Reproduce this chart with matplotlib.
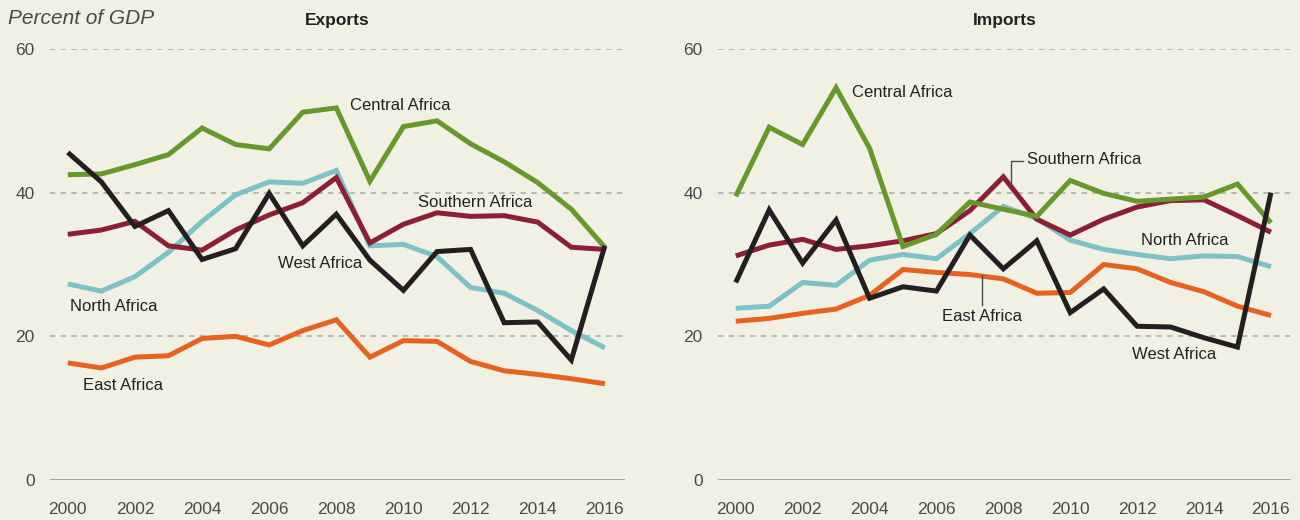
import matplotlib
matplotlib.use('Agg')
import matplotlib.pyplot as plt


# _____DATA____

years = list(range(2000, 2017))

exports_central = [42.5, 42.6, 43.9, 45.3, 49.0, 46.7, 46.1, 51.2, 51.8, 41.6, 49.2, 50.0, 46.8, 44.3, 41.4, 37.7, 32.4]
exports_north = [27.3, 26.3, 28.3, 31.7, 36.0, 39.7, 41.5, 41.3, 43.1, 32.6, 32.8, 31.1, 26.8, 26.0, 23.6, 20.8, 18.4]
exports_southern = [34.2, 34.8, 36.0, 32.6, 32.0, 34.8, 36.9, 38.6, 42.1, 33.0, 35.6, 37.2, 36.7, 36.8, 35.9, 32.4, 32.1]
exports_west = [45.6, 41.5, 35.3, 37.5, 30.7, 32.2, 39.9, 32.6, 37.0, 30.6, 26.4, 31.8, 32.1, 21.9, 22.0, 16.7, 32.6]
exports_east = [16.3, 15.6, 17.1, 17.3, 19.7, 20.0, 18.8, 20.8, 22.3, 17.1, 19.4, 19.3, 16.5, 15.2, 14.7, 14.1, 13.4]

imports_central = [39.5, 49.1, 46.7, 54.6, 46.2, 32.5, 34.2, 38.7, 37.7, 36.7, 41.7, 39.9, 38.8, 39.1, 39.4, 41.2, 35.8]
imports_north = [23.9, 24.2, 27.5, 27.1, 30.6, 31.4, 30.8, 34.3, 38.1, 36.4, 33.4, 32.1, 31.4, 30.8, 31.2, 31.1, 29.7]
imports_southern = [31.2, 32.7, 33.5, 32.1, 32.6, 33.3, 34.3, 37.5, 42.2, 36.3, 34.1, 36.3, 38.0, 38.9, 39.0, 36.8, 34.5]
imports_west = [27.5, 37.6, 30.2, 36.2, 25.3, 26.9, 26.3, 34.1, 29.4, 33.3, 23.3, 26.6, 21.4, 21.3, 19.8, 18.5, 40.0]
imports_east = [22.1, 22.5, 23.2, 23.8, 25.7, 29.3, 28.9, 28.6, 28.0, 26.0, 26.1, 30.0, 29.4, 27.5, 26.2, 24.2, 22.9]

x_ticks = [2000, 2002, 2004, 2006, 2008, 2010, 2012, 2014, 2016]
y_ticks = [0, 20, 40, 60]

# _____STYLE____

BACKGROUND = '#f0f1e4'
COLORS = {
    'North Africa': '#7dc2c5',
    'East Africa': '#e8621f',
    'Southern Africa': '#8c1f35',
    'Central Africa': '#67992a',
    'West Africa': '#231f20',
}
TEXT = '#222222'
GREY = '#4a4a4a'
FONT = ['Liberation Sans', 'DejaVu Sans']

plt.rcParams['font.family'] = FONT


def draw_panel(ax, series, title_x, title):
    # series drawn in fixed order so the black line sits on top
    for name in ['North Africa', 'East Africa', 'Southern Africa', 'Central Africa', 'West Africa']:
        ax.plot(years, series[name], color=COLORS[name], lw=3.6,
                solid_joinstyle='miter', solid_capstyle='butt', clip_on=False, zorder=3)

    # grid
    for y in y_ticks[1:]:
        ax.axhline(y, color='#a8a8a2', lw=1.1, ls=(0, (3.5, 3.5)), zorder=1)
    ax.axhline(0, color='#a3a39d', lw=1.4, zorder=1)

    ax.set_xlim(1999.47, 2016.6)
    ax.set_ylim(0, 60)
    ax.set_facecolor(BACKGROUND)
    for spine in ax.spines.values():
        spine.set_visible(False)

    ax.set_xticks(x_ticks)
    ax.set_yticks(y_ticks)
    ax.tick_params(length=0, colors=GREY, labelsize=12.5)
    ax.tick_params(axis='y', pad=11)
    ax.tick_params(axis='x', pad=16)

    fig.text(title_x, 1 - 20 / 520, title, ha='center', va='center',
             fontsize=12.5, fontweight='bold', color=TEXT)


fig = plt.figure(figsize=(13, 5.2), dpi=100, facecolor=BACKGROUND)

bottom = 1 - 480 / 520
height = (480 - 49) / 520
ax_exp = fig.add_axes([50 / 1300, bottom, 575 / 1300, height])
ax_imp = fig.add_axes([718 / 1300, bottom, 573 / 1300, height])

draw_panel(ax_exp, {
    'Central Africa': exports_central,
    'North Africa': exports_north,
    'Southern Africa': exports_southern,
    'West Africa': exports_west,
    'East Africa': exports_east,
}, 337.5 / 1300, 'Exports')

draw_panel(ax_imp, {
    'Central Africa': imports_central,
    'North Africa': imports_north,
    'Southern Africa': imports_southern,
    'West Africa': imports_west,
    'East Africa': imports_east,
}, 1004.5 / 1300, 'Imports')

# series labels
label_kw = dict(fontsize=12, color=TEXT, va='center', ha='left', zorder=5)

ax_exp.text(2008.4, 52.2, 'Central Africa', **label_kw)
ax_exp.text(2010.43, 38.6, 'Southern Africa', **label_kw)
ax_exp.text(2006.26, 30.2, 'West Africa', **label_kw)
ax_exp.text(2000.06, 24.2, 'North Africa', **label_kw)
ax_exp.text(2000.45, 13.1, 'East Africa', **label_kw)

ax_imp.text(2003.49, 53.9, 'Central Africa', **label_kw)
ax_imp.text(2008.7, 44.6, 'Southern Africa', **label_kw)
ax_imp.text(2012.13, 33.3, 'North Africa', **label_kw)
ax_imp.text(2006.17, 22.7, 'East Africa', **label_kw)
ax_imp.text(2011.86, 17.5, 'West Africa', **label_kw)

# leader lines
ax_imp.plot([2008.58, 2008.22, 2008.22], [44.45, 44.45, 41.2], color=GREY, lw=1, zorder=4)
ax_imp.plot([2007.36, 2007.36], [28.55, 24.4], color=GREY, lw=1, zorder=4)

fig.text(8 / 1300, 1 - 19 / 520, 'Percent of GDP', ha='left', va='center',
         fontsize=15, style='italic', color=GREY)

plt.savefig('out.png', dpi=100, facecolor=BACKGROUND)
